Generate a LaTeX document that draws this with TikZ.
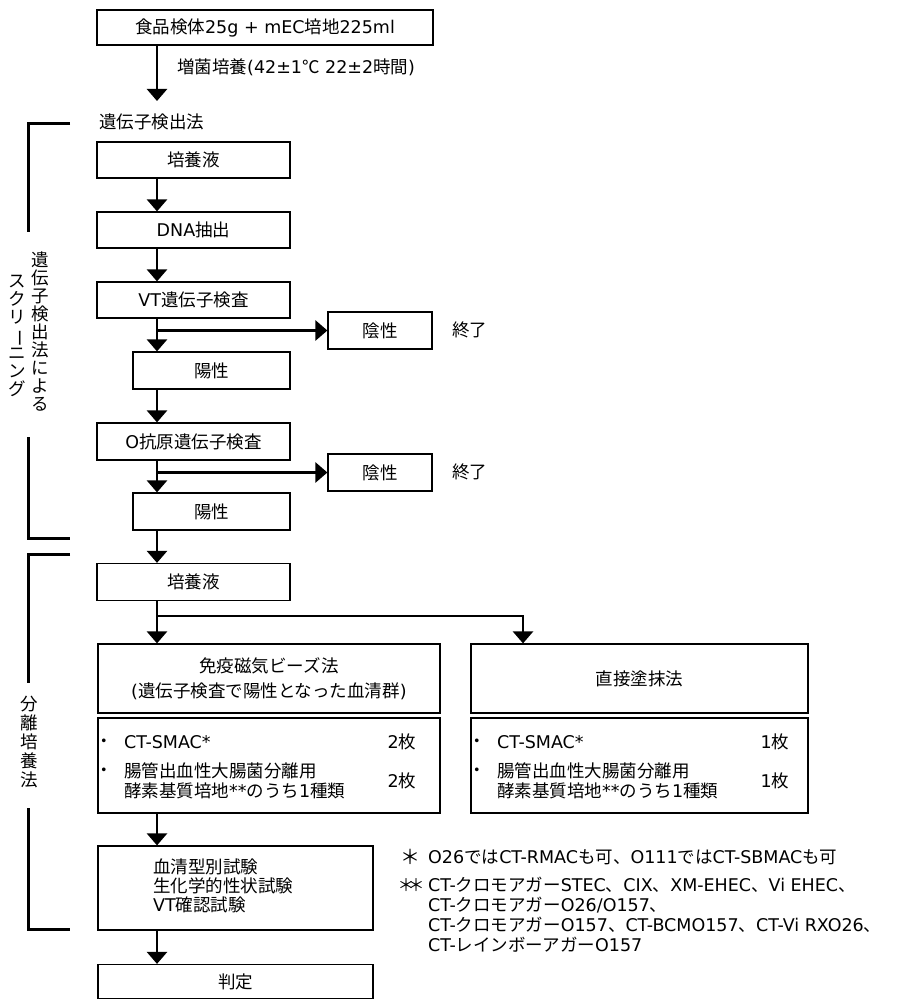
\documentclass[tikz,border=0pt]{standalone}
\usepackage{fontspec}
\usepackage{graphicx}
\setmainfont{DejaVu Sans}
\newfontfamily\latinfont{DejaVu Sans}
\newfontfamily\cjkfont{Noto Sans CJK JP}
\usetikzlibrary{arrows.meta}
\XeTeXinterchartokenstate=1
\newcount\cjkcnt
\def\setclassrange#1#2#3{\cjkcnt=#1\relax\loop\XeTeXcharclass\cjkcnt=#3\relax\advance\cjkcnt by 1\relax\ifnum\cjkcnt<#2\repeat}
\setclassrange{"0020}{"0300}{0}
\setclassrange{"3000}{"3100}{10}
\setclassrange{"4E00}{"A000}{10}
\setclassrange{"FF00}{"FFF0}{10}
\XeTeXcharclass"2103=10
\XeTeXinterchartoks 0 10 = {\cjkfont}
\XeTeXinterchartoks 4095 10 = {\cjkfont}
\XeTeXinterchartoks 10 0 = {\latinfont}
\XeTeXinterchartoks 10 4095 = {\latinfont}
\tikzset{
  box/.style={draw, line width=1.2pt, inner sep=0pt, align=center},
  arr/.style={line width=2.6pt, -{Triangle[width=20pt,length=12pt]}},
  ln/.style={line width=2.6pt},
  brk/.style={line width=3pt},
  txt/.style={inner sep=0pt},
}
\begin{document}
\begin{tikzpicture}[x=1pt,y=-1pt,font=\fontsize{17.5}{21}\selectfont]
\useasboundingbox (0,0) rectangle (908,1000);
% boxes
\node[box, minimum width=336pt, minimum height=35pt] (top) at (265,27.5) {食品検体25g + mEC培地225ml};
\node[box, minimum width=193pt, minimum height=36pt] (cul1) at (193.5,160) {培養液};
\node[box, minimum width=193pt, minimum height=36pt] (dna) at (193.5,230) {DNA抽出};
\node[box, minimum width=193pt, minimum height=36pt] (vt) at (193.5,300) {VT遺伝子検査};
\node[box, minimum width=104pt, minimum height=37pt] (neg1) at (380,330.5) {陰性};
\node[box, minimum width=157pt, minimum height=37pt] (pos1) at (211.5,370.5) {陽性};
\node[box, minimum width=193pt, minimum height=37pt] (oag) at (193.5,441.5) {O抗原遺伝子検査};
\node[box, minimum width=104pt, minimum height=37pt] (neg2) at (380,472.5) {陰性};
\node[box, minimum width=157pt, minimum height=37pt] (pos2) at (211.5,511.5) {陽性};
\node[box, minimum width=193pt, minimum height=37pt] (cul2) at (193.5,582) {培養液};
\node[box, minimum width=342pt, minimum height=69pt, font=\fontsize{17.5}{24.5}\selectfont] (imm) at (269,678.5) {免疫磁気ビーズ法\\(遺伝子検査で陽性となった血清群)};
\node[box, minimum width=337pt, minimum height=69pt] (dir) at (639.5,678.5) {直接塗抹法};
\node[box, minimum width=342pt, minimum height=95pt] (list1) at (269,765.5) {};
\node[box, minimum width=337pt, minimum height=95pt] (list2) at (639.5,765.5) {};
\node[box, minimum width=275pt, minimum height=84pt] (sero) at (235.5,888) {};
\node[box, minimum width=275pt, minimum height=34pt] (judge) at (235.5,981.5) {判定};
% free texts
\node[txt, anchor=west] (lab) at (177,67) {増菌培養(42±1℃ 22±2時間)};
\node[txt, anchor=west] (gh) at (99,122) {遺伝子検出法};
\node[txt, anchor=west] (end1) at (452,330) {終了};
\node[txt, anchor=west] (end2) at (452,472) {終了};
% list contents
\node[txt] (l1a) at (104,743) {・};
\node[txt, anchor=west] (l1b) at (124,742) {CT-SMAC*};
\node[txt] (l1c) at (402,742) {2枚};
\node[txt] (l1d) at (104,772) {・};
\node[txt, anchor=west, align=left, font=\fontsize{17.5}{20}\selectfont] (l1e) at (124,781) {腸管出血性大腸菌分離用\\酵素基質培地**のうち1種類};
\node[txt] (l1f) at (402,781) {2枚};
\node[txt] (l2a) at (477,743) {・};
\node[txt, anchor=west] (l2b) at (497,742) {CT-SMAC*};
\node[txt] (l2c) at (775,742) {1枚};
\node[txt] (l2d) at (477,772) {・};
\node[txt, anchor=west, align=left, font=\fontsize{17.5}{20}\selectfont] (l2e) at (497,781) {腸管出血性大腸菌分離用\\酵素基質培地**のうち1種類};
\node[txt] (l2f) at (775,781) {1枚};
\node[txt, anchor=west, align=left, font=\fontsize{17.5}{18.7}\selectfont] (serot) at (153,886) {血清型別試験\\生化学的性状試験\\VT確認試験};
% footnotes
\node[txt, font=\fontsize{20}{20}\selectfont] (f1a) at (410,857) {＊};
\node[txt, font=\fontsize{17}{20}\selectfont] (f2a) at (411,885) {＊\kern-7pt＊};
\node[txt, anchor=west] (f1b) at (428,857) {O26ではCT-RMACも可、O111ではCT-SBMACも可};
\node[txt, anchor=west, align=left, font=\fontsize{17.5}{20}\selectfont] (f2b) at (428,915) {CT-クロモアガーSTEC、CIX、XM-EHEC、Vi EHEC、\\CT-クロモアガーO26/O157、\\CT-クロモアガーO157、CT-BCMO157、CT-Vi RXO26、\\CT-レインボーアガーO157};
% vertical labels
\node[txt, align=center, font=\fontsize{17.5}{18.1}\selectfont] (v1) at (40,331.5) {遺\\伝\\子\\検\\出\\法\\に\\よ\\る};
\node[txt, align=center, font=\fontsize{17.5}{18.1}\selectfont] (v2) at (17,336) {ス\\ク\\リ\\\rotatebox[origin=c]{-90}{ー}\\ニ\\ン\\グ};
\node[txt, align=center, font=\fontsize{17.5}{19}\selectfont] (v3) at (29,742.5) {分\\離\\培\\養\\法};
% brackets
\draw[brk] (70,124) -- (28,124) -- (28,232);
\draw[brk] (28,437) -- (28,538) -- (70,538);
\draw[brk] (70,554) -- (28,554) -- (28,683);
\draw[brk] (28,808) -- (28,929) -- (70,929);
% connectors
\coordinate (c0) at (157,101);
\coordinate (dx) at (523,616);
\coordinate (br) at (157,616);
\draw[arr] (top.south -| c0) -- (c0);
\draw[arr] (cul1.south -| c0) -- (dna.north -| c0);
\draw[arr] (dna.south -| c0) -- (vt.north -| c0);
\draw[arr] (vt.south -| c0) -- (pos1.north -| c0);
\draw[arr] (neg1.west -| c0) -- (neg1.west);
\draw[arr] (pos1.south -| c0) -- (oag.north -| c0);
\draw[arr] (oag.south -| c0) -- (pos2.north -| c0);
\draw[arr] (neg2.west -| c0) -- (neg2.west);
\draw[arr] (pos2.south -| c0) -- (cul2.north -| c0);
\draw[arr] (cul2.south -| c0) -- (imm.north -| c0);
\draw[arr] (br) -| (dir.north -| dx);
\draw[arr] (list1.south -| c0) -- (sero.north -| c0);
\draw[arr] (sero.south -| c0) -- (judge.north -| c0);
\end{tikzpicture}
\end{document}
